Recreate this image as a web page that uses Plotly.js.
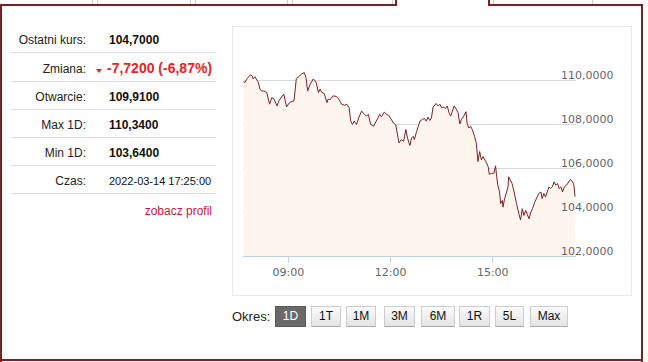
<!DOCTYPE html>
<html><head><meta charset="utf-8">
<script src="https://cdn.plot.ly/plotly-3.0.1.min.js"></script>
<style>
html,body{margin:0;padding:0;background:#fff;width:648px;height:362px;overflow:hidden;font-family:"Liberation Sans",Arial,sans-serif;}
.abs{position:absolute;}
.mar{position:absolute;background:#7b2023;}
.tab{position:absolute;background:#cfcfcf;width:1px;top:0;height:4px;}
.lbl{position:absolute;left:0;width:86px;text-align:right;font-size:12px;line-height:14px;color:#222;white-space:nowrap;}
.val{position:absolute;left:109px;font-size:12px;line-height:14px;font-weight:bold;color:#111;white-space:nowrap;}
.sep{position:absolute;left:11px;width:205px;height:1px;background:#dedede;}
.btn{position:absolute;top:306px;height:19px;border:1px solid #cdcdcd;border-bottom-color:#a9a9a9;background:linear-gradient(#fbfbfb,#e4e4e4);font-size:12px;line-height:19px;text-align:center;color:#111;box-sizing:content-box;}
.btn.on{background:#6a6a6a;border-color:#5a5a5a;color:#fff;}
#chartbox{position:absolute;left:232px;top:26px;width:398px;height:268px;border:1px solid #e8e8e8;}
#chart{position:absolute;left:0;top:0;width:648px;height:362px;}
</style></head>
<body>
<!-- frame -->
<div class="tab" style="left:92px"></div><div class="tab" style="left:97px"></div>
<div class="tab" style="left:190px"></div><div class="tab" style="left:195px"></div>
<div class="tab" style="left:287px"></div><div class="tab" style="left:292px"></div>
<div class="tab" style="left:392px"></div>
<div class="tab" style="left:493px"></div><div class="tab" style="left:592px"></div>
<div class="mar" style="left:0;top:4px;width:397px;height:2px"></div>
<div class="mar" style="left:395px;top:0;width:2px;height:6px"></div>
<div class="mar" style="left:488px;top:0;width:2px;height:6px"></div>
<div class="mar" style="left:488px;top:4px;width:155px;height:2px"></div>
<div class="mar" style="left:0;top:4px;width:2px;height:358px"></div>
<div class="mar" style="left:641px;top:4px;width:2px;height:358px"></div>
<div class="mar" style="left:0;top:359px;width:643px;height:2px"></div>

<!-- info table -->
<div class="lbl" style="top:33px">Ostatni kurs:</div><div class="val" style="top:33px">104,7000</div>
<div class="sep" style="top:52px"></div>
<div class="lbl" style="top:62px">Zmiana:</div>
<div class="abs" style="left:96px;top:69px;width:0;height:0;border-left:3px solid transparent;border-right:3px solid transparent;border-top:4px solid #e8222b"></div>
<div class="val" style="top:60px;left:107px;font-size:14px;line-height:16px;color:#e8222b">-7,7200 (-6,87%)</div>
<div class="sep" style="top:81px"></div>
<div class="lbl" style="top:90px">Otwarcie:</div><div class="val" style="top:90px">109,9100</div>
<div class="sep" style="top:109px"></div>
<div class="lbl" style="top:118px">Max 1D:</div><div class="val" style="top:118px">110,3400</div>
<div class="sep" style="top:137px"></div>
<div class="lbl" style="top:146px">Min 1D:</div><div class="val" style="top:146px">103,6400</div>
<div class="sep" style="top:165px"></div>
<div class="lbl" style="top:174px">Czas:</div><div class="val" style="top:175px;font-weight:normal;font-size:11px;line-height:13px">2022-03-14 17:25:00</div>
<div class="sep" style="top:193px"></div>
<div class="abs" style="left:100px;width:112px;text-align:right;top:204px;font-size:12px;line-height:14px;color:#c8143c">zobacz profil</div>

<div id="chartbox"></div>
<div id="chart"></div>

<!-- period buttons -->
<div class="abs" style="left:232px;top:309px;font-size:13px;line-height:15px;color:#222">Okres:</div>
<div class="btn on" style="left:275px;width:29px">1D</div>
<div class="btn" style="left:311px;width:28px">1T</div>
<div class="btn" style="left:346px;width:28px">1M</div>
<div class="btn" style="left:384px;width:29px">3M</div>
<div class="btn" style="left:421px;width:32px">6M</div>
<div class="btn" style="left:459px;width:29px">1R</div>
<div class="btn" style="left:495px;width:27px">5L</div>
<div class="btn" style="left:530px;width:36px">Max</div>

<script>
const day = "2022-03-14 ";
const times = ["07:41","07:44","07:47","07:53","07:56","07:58","08:01","08:04","08:07","08:10",
"08:13","08:17","08:22","08:27","08:31","08:35","08:40","08:44","08:48","08:52",
"08:57","09:02","09:06","09:10","09:14","09:18","09:24","09:28","09:31","09:34",
"09:38","09:44","09:49","09:53","09:56","09:59","10:03","10:08","10:10","10:13",
"10:19","10:25","10:29","10:34","10:39","10:43","10:47","10:50","10:53","10:56",
"11:00","11:04","11:09","11:14","11:18","11:21","11:25","11:30","11:34","11:38",
"11:41","11:44","11:49","11:53","11:57","12:02","12:05","12:09","12:12","12:15",
"12:19","12:23","12:27","12:30","12:34","12:37","12:40","12:42","12:46","12:49",
"12:52","12:56","13:00","13:03","13:06","13:09","13:12","13:15","13:20","13:24",
"13:27","13:30","13:33","13:37","13:40","13:43","13:46","13:49","13:52","13:56",
"13:59","14:02","14:05","14:09","14:13","14:15","14:18","14:21","14:24","14:28",
"14:31","14:34","14:37","14:40","14:43","14:48","14:52","14:54","14:58","15:02",
"15:05","15:07","15:09","15:12","15:14","15:17","15:18","15:21","15:24","15:27",
"15:28","15:31","15:34","15:37","15:40","15:42","15:46","15:49","15:52","15:55",
"15:58","16:01","16:04","16:07","16:10","16:14","16:17","16:21","16:25","16:27",
"16:30","16:33","16:36","16:39","16:42","16:45","16:48","16:51","16:54","16:57",
"17:00","17:03","17:06","17:10","17:14","17:17","17:21","17:23","17:25"];
const prices = [109.91,109.90,110.05,110.23,110.20,110.05,110.15,110.05,109.90,109.59,
109.50,109.50,109.43,108.90,109.20,109.13,108.82,109.08,109.20,109.36,
108.78,108.97,109.02,109.05,110.05,110.15,110.28,110.34,110.12,109.50,
109.78,110.05,109.90,109.43,109.59,109.43,109.39,108.97,109.13,109.10,
109.28,109.25,109.13,108.90,108.85,108.90,108.74,108.13,107.98,108.13,
107.98,108.28,108.59,108.44,108.36,108.44,107.98,107.90,108.13,108.28,
108.44,108.33,108.54,108.44,108.39,108.21,108.05,107.98,107.60,107.14,
107.29,107.21,107.75,107.36,107.02,107.36,107.44,107.29,107.67,107.90,
108.13,108.21,108.25,108.13,108.31,108.16,108.28,108.77,108.93,108.82,
108.90,108.74,108.77,108.71,108.82,108.51,108.36,108.59,108.82,108.67,
108.51,108.00,108.21,108.36,108.56,108.00,107.82,107.90,107.75,107.44,
107.14,106.29,106.75,106.37,106.52,106.29,106.06,105.71,105.76,105.76,
106.10,105.60,105.22,104.91,104.38,104.53,104.22,104.61,104.91,105.14,
105.60,105.45,105.30,104.99,104.68,104.38,103.92,103.64,104.15,103.84,
104.07,103.84,103.69,103.99,104.15,104.45,104.61,104.84,104.91,104.61,
104.84,104.68,104.91,105.14,105.07,105.14,105.37,105.22,105.30,105.07,
105.14,104.91,105.14,105.22,105.37,105.48,105.37,105.22,104.70];
const xTickVals = ["09:00","12:00","15:00"];
const xTickLabels = ["09:00","12:00","15:00"];
const xRange = ["07:40:10","17:26:40"];
const yRange = [102,112];
const yGridVals = [102,104,106,108,110,112];
const yLabelVals = [102,104,106,108,110];
const yLabels = ["102,0000","104,0000","106,0000","108,0000","110,0000"];

const trace = {
  x: times.map(t => day + t),
  y: prices,
  type: "scatter",
  mode: "lines",
  line: {color: "#7b2226", width: 1},
  fill: "tozeroy",
  fillcolor: "#fdf5ee",
  hoverinfo: "skip"
};
const annotations = yLabelVals.map((v, i) => ({
  xref: "paper", yref: "y", x: 1, y: v,
  xanchor: "right", yanchor: "bottom", xshift: 40, yshift: -4,
  text: yLabels[i], showarrow: false,
  font: {family: "DejaVu Sans", size: 11, color: "#666666"}
}));
const layout = {
  width: 648, height: 362,
  margin: {l: 243, r: 72, t: 36, b: 106},
  paper_bgcolor: "rgba(0,0,0,0)",
  plot_bgcolor: "rgba(0,0,0,0)",
  showlegend: false,
  xaxis: {
    type: "date",
    range: xRange.map(t => day + t),
    tickmode: "array",
    tickvals: xTickVals.map(t => day + t),
    ticktext: xTickLabels,
    ticks: "outside", ticklen: 6, tickcolor: "#c0d0e0", tickwidth: 1,
    showline: true, linecolor: "#c0d0e0", linewidth: 1,
    showgrid: false, zeroline: false,
    tickfont: {family: "DejaVu Sans", size: 11, color: "#666666"}
  },
  yaxis: {
    range: yRange,
    tickmode: "array",
    tickvals: yGridVals,
    showticklabels: false,
    showgrid: true, gridcolor: "#d9d9d9", gridwidth: 1,
    zeroline: false, showline: false, ticks: ""
  },
  annotations: annotations
};
Plotly.newPlot("chart", [trace], layout, {staticPlot: true, displayModeBar: false});
</script>
</body></html>
